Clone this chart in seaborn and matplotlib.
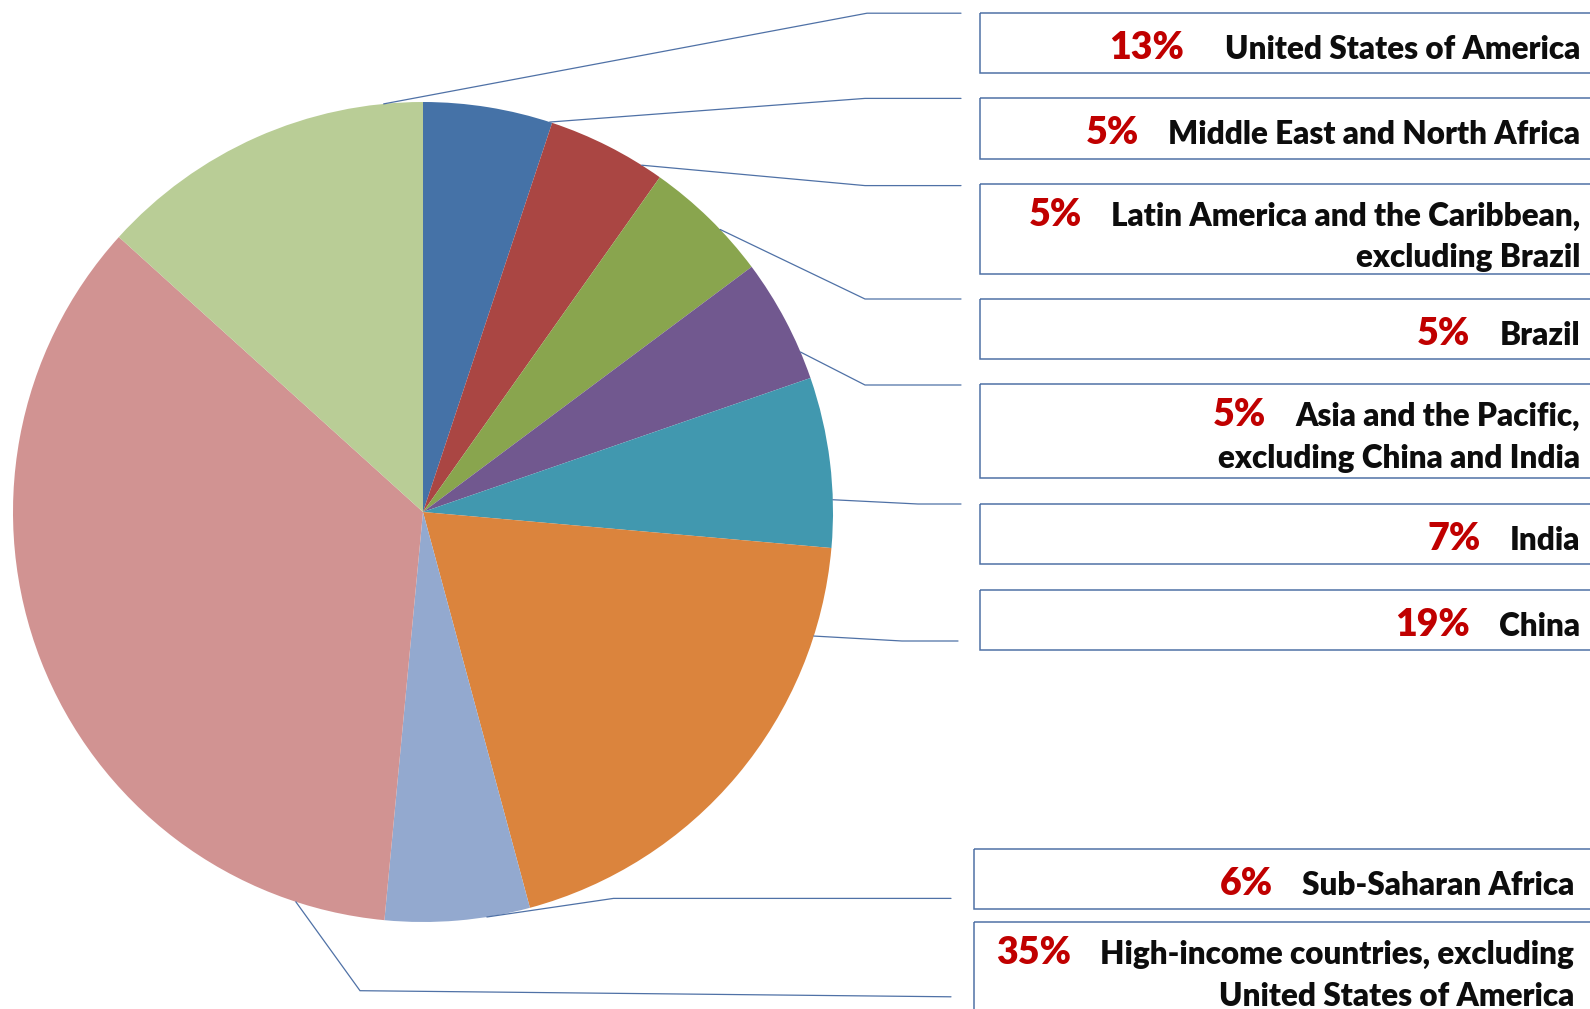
import numpy as np
import matplotlib
matplotlib.use("Agg")
import matplotlib.pyplot as plt
import seaborn as sns
from matplotlib.patches import Rectangle

# data, in clockwise order from 12 o'clock
regions = ["Middle East and North Africa",
           "Latin America and the Caribbean,\nexcluding Brazil",
           "Brazil",
           "Asia and the Pacific,\nexcluding China and India",
           "India",
           "China",
           "Sub-Saharan Africa",
           "High-income countries, excluding\nUnited States of America",
           "United States of America"]
shares = [5.1, 4.7, 5.0, 4.9, 6.7, 19.4, 5.7, 35.2, 13.3]
colors = ["#4572A7", "#AA4643", "#89A54E", "#71588F", "#4198AF",
          "#DB843D", "#93A9CF", "#D19392", "#B9CD96"]

# layout (pixels, origin top-left)
W, H = 1590, 1009
cx, cy, rad = 423, 512, 410
box_left = [980, 980, 980, 980, 980, 980, 973.5, 973.5, 980]
box_top = [98.4, 183.5, 299.1, 384.3, 504, 590.2, 848.7, 921.7, 13.2]
box_h = [60.8, 90.3, 60, 93.3, 59.8, 59.8, 60, 110, 59.8]
text_right = [1580, 1580, 1580, 1580, 1580, 1580, 1574, 1574, 1580]
pct_gap = [29, 29, 29, 29, 29, 29, 29, 29, 41]
anchor_frac = [0.98, 0.82, 0.62, 0.78, 0.72, 0.18, 0.30, 0.10, 0.885]
elbow = [(865, 98.4), (865, 185.6), (865, 299), (865, 385), (918, 504),
         (902, 641), (613.5, 898.4), (360, 990.7), (867, 13.2)]
leader_end = [(961, 98.4), (961, 185.6), (961, 299), (961, 385), (961, 504),
              (958, 641), (951, 898.4), (951, 996.8), (961, 13.2)]

sns.set_theme(style="white")
plt.rcParams['font.family'] = ['Lato', 'DejaVu Sans']
line_col = "#4f71a6"

fig = plt.figure(figsize=(W / 100, H / 100), dpi=100)
ax = fig.add_axes([0, 0, 1, 1])
palette = sns.color_palette(colors)
wedges, _ = ax.pie(shares, colors=palette, startangle=-90, counterclock=True,
                   center=(cx, cy), radius=rad, frame=True,
                   wedgeprops=dict(linewidth=0))
ax.set_xlim(0, W)
ax.set_ylim(H, 0)
ax.axis('off')

renderer = fig.canvas.get_renderer()
for i, wdg in enumerate(wedges):
    # leader line
    a = np.deg2rad(wdg.theta1 + anchor_frac[i] * (wdg.theta2 - wdg.theta1))
    sx, sy = cx + rad * np.cos(a), cy + rad * np.sin(a)
    ax.plot([sx, elbow[i][0], leader_end[i][0]], [sy, elbow[i][1], leader_end[i][1]],
            color=line_col, lw=0.9, solid_joinstyle='miter', clip_on=False)
    # box
    ax.add_patch(Rectangle((box_left[i], box_top[i]), 700, box_h[i], fill=False,
                           edgecolor=line_col, lw=1.1, clip_on=False))
    lines = regions[i].split("\n")
    base = box_top[i] + (46 if len(lines) == 1 else 42)
    first = None
    for j, ln in enumerate(lines):
        t = ax.text(text_right[i], base + 42 * j, ln, ha='right', va='baseline',
                    fontsize=22.7, fontweight='heavy', color='#0d0d0d')
        if j == 0:
            first = t
    bb = first.get_window_extent(renderer=renderer)
    x_left = ax.transData.inverted().transform((bb.x0, bb.y0))[0]
    ax.text(x_left - pct_gap[i], base, f"{shares[i]:.0f}%", ha='right', va='baseline',
            fontsize=27, fontweight='heavy', color='#C00000')

fig.savefig("out.png", dpi=100)
